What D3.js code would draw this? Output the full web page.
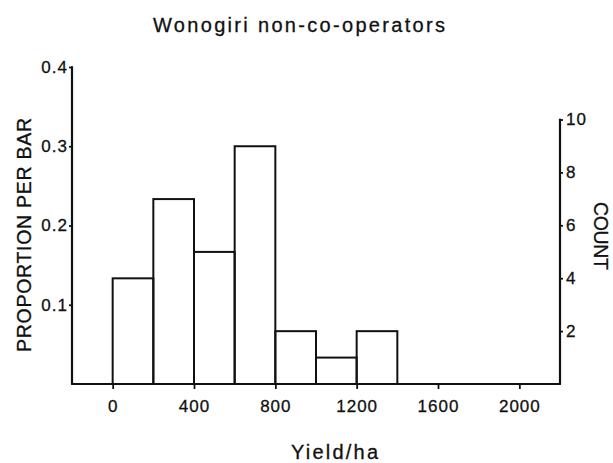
<!DOCTYPE html>
<html><head><meta charset="utf-8">
<script src="https://cdn.jsdelivr.net/npm/d3@7"></script>
<style>body{margin:0;background:#fff}svg{display:block}text{font-family:"Liberation Sans",Arial,sans-serif;fill:#111;stroke:#111;stroke-width:0.3px}</style>
</head><body><svg id="c" width="613" height="463"></svg>
<script>
const binStarts = [0, 200, 400, 600, 800, 1000, 1200];
const binWidth = 200;
const counts = [4, 7, 5, 9, 2, 1, 2];
const xTicks = [0, 400, 800, 1200, 1600, 2000];
const propTicks = [0.1, 0.2, 0.3, 0.4];
const countTicks = [2, 4, 6, 8, 10];
const total = d3.sum(counts);

const svg = d3.select("#c");
const x = d3.scaleLinear().domain([-200, 2200]).range([72, 560]);
const yP = d3.scaleLinear().domain([0, 0.4]).range([384, 67]);
const yC = d3.scaleLinear().domain([0, 10]).range([384, 119.5]);
const stroke = "#111";

// bars
svg.append("g").selectAll("rect").data(binStarts).join("rect")
  .attr("x", d => x(d)).attr("width", d => x(d + binWidth) - x(d))
  .attr("y", (d, i) => yP(counts[i] / total))
  .attr("height", (d, i) => yP(0) - yP(counts[i] / total))
  .attr("fill", "none").attr("stroke", stroke).attr("stroke-width", 2);

function styleAxis(g) {
  g.selectAll(".domain").remove();
  g.selectAll(".tick line").attr("stroke", stroke).attr("stroke-width", 1.8);
  g.selectAll(".tick text").style("font-size", "17px").style("letter-spacing", "1px").attr("fill", "#111");
}
// axis lines
const axisLines = [
  [x(-200), yP(0), x(2200), yP(0)],
  [x(-200), yP(0), x(-200), yP(0.4)],
  [x(2200), yC(0), x(2200), yC(10)]
];
svg.append("g").selectAll("line").data(axisLines).join("line")
  .attr("x1", d => d[0]).attr("y1", d => d[1]).attr("x2", d => d[2]).attr("y2", d => d[3])
  .attr("stroke", stroke).attr("stroke-width", 2.2).attr("stroke-linecap", "round");

svg.append("g").attr("transform", `translate(0,${yP(0)})`)
  .call(d3.axisBottom(x).tickValues(xTicks).tickFormat(d3.format("d")).tickSize(5).tickPadding(11))
  .call(styleAxis);
svg.append("g").attr("transform", `translate(${x(-200)},0)`)
  .call(d3.axisLeft(yP).tickValues(propTicks).tickFormat(d3.format(".1f")).tickSize(3).tickPadding(1))
  .call(styleAxis);
svg.append("g").attr("transform", `translate(${x(2200)},0)`)
  .call(d3.axisRight(yC).tickValues(countTicks).tickFormat(d3.format("d")).tickSize(3).tickPadding(3))
  .call(styleAxis);

// titles
svg.append("text").attr("x", 299).attr("y", 31.5).attr("text-anchor", "middle")
  .style("font-size", "20px").attr("textLength", 292).attr("lengthAdjust", "spacing")
  .text("Wonogiri  non-co-operators");
svg.append("text").attr("x", 334.5).attr("y", 459).attr("text-anchor", "middle")
  .style("font-size", "20px").attr("textLength", 87).attr("lengthAdjust", "spacing")
  .text("Yield/ha");
svg.append("text").attr("transform", "translate(31,235) rotate(-90)").attr("text-anchor", "middle")
  .style("font-size", "19.5px").attr("textLength", 234).attr("lengthAdjust", "spacing")
  .text("PROPORTION PER BAR");
svg.append("text").attr("transform", "translate(594,236) rotate(90)").attr("text-anchor", "middle")
  .style("font-size", "19.5px").attr("textLength", 68).attr("lengthAdjust", "spacing")
  .text("COUNT");
</script></body></html>
